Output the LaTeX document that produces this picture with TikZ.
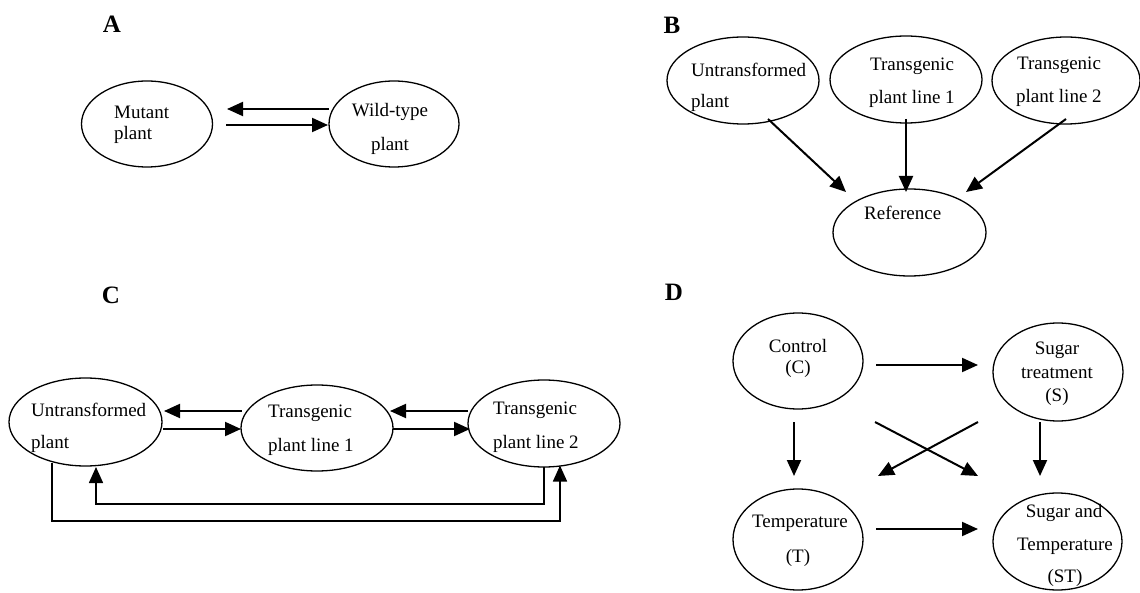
\documentclass[tikz,border=0pt]{standalone}
\usepackage{fontspec}
\setmainfont{Liberation Serif}
\usetikzlibrary{shapes.geometric,arrows.meta,calc}
\begin{document}
\begin{tikzpicture}[x=1pt,y=-1pt,
  ell/.style={draw, ellipse, line width=1.3pt, inner sep=0pt, outer sep=0pt},
  txt/.style={inner sep=0pt, font=\fontsize{19}{22}\selectfont},
  lbl/.style={inner sep=0pt, font=\fontsize{25}{28}\selectfont\bfseries},
  arr/.style={line width=2pt, -{Triangle[length=16pt,width=14pt]}},
  ret/.style={line width=1.6pt, -{Triangle[length=16pt,width=14pt]}}]
\useasboundingbox (0,0) rectangle (1140,593);

% ---------- Panel A ----------
\node[lbl] (la) at (112,24) {A};
\node[ell, minimum width=131pt, minimum height=86pt] (mut) at (147,124) {};
\node[ell, minimum width=130pt, minimum height=86pt] (wild) at (394,124) {};
\node[txt, anchor=west] (mut1) at (114,112) {Mutant};
\node[txt, anchor=west] (mut2) at (114,135) {plant};
\node[txt] (wild1) at (390,112) {Wild-type};
\node[txt] (wild2) at (390,146) {plant};
\draw[arr] ($(wild.west)+(0,-15)$) -- ($(mut.east)+(14.5,-15)$);
\draw[arr] ($(mut.east)+(13.5,1)$) -- ($(wild.west)+(-1,1)$);

% ---------- Panel B ----------
\node[lbl] (lb) at (672,25) {B};
\node[ell, minimum width=152pt, minimum height=87pt] (bu) at (743,80.5) {};
\node[ell, minimum width=152pt, minimum height=87pt] (bt1) at (906,79.5) {};
\node[ell, minimum width=148pt, minimum height=87pt] (bt2) at (1066,80.5) {};
\node[ell, minimum width=153pt, minimum height=87pt] (bref) at (909.5,232.5) {};
\node[txt, anchor=west] (bu1) at (691,70) {Untransformed};
\node[txt, anchor=west] (bu2) at (691,103) {plant};
\node[txt, anchor=west] (bt11) at (870,66) {Transgenic};
\node[txt, anchor=west] (bt12) at (869,99) {plant line 1};
\node[txt, anchor=west] (bt21) at (1017,65) {Transgenic};
\node[txt, anchor=west] (bt22) at (1016,98) {plant line 2};
\node[txt, anchor=west] (bref1) at (864,213) {Reference};
\draw[arr] ($(bu.south)+(25,-5)$) -- ($(bref.north)+(-63.5,3)$);
\draw[arr] ($(bt1.south)+(0,-4)$) -- ($(bref.north)+(-3.5,3)$);
\draw[arr] ($(bt2.south)+(0,-5)$) -- ($(bref.north)+(56.5,3)$);

% ---------- Panel C ----------
\node[lbl] (lc) at (111,295) {C};
\node[ell, minimum width=153pt, minimum height=88pt] (cu) at (85.5,422) {};
\node[ell, minimum width=152pt, minimum height=86pt] (ct1) at (317,428) {};
\node[ell, minimum width=152pt, minimum height=87pt] (ct2) at (544,423.5) {};
\node[txt, anchor=west] (cu1) at (31,410) {Untransformed};
\node[txt, anchor=west] (cu2) at (31,444) {plant};
\node[txt, anchor=west] (ct11) at (268,413) {Transgenic};
\node[txt, anchor=west] (ct12) at (268,447) {plant line 1};
\node[txt, anchor=west] (ct21) at (493,410) {Transgenic};
\node[txt, anchor=west] (ct22) at (493,444) {plant line 2};
\draw[arr] ($(ct1.west)+(1,-17)$) -- ($(cu.east)+(2,-11)$);
\draw[arr] ($(cu.east)+(1,7)$) -- ($(ct1.west)+(0,1)$);
\draw[arr] ($(ct2.west)+(0,-12.5)$) -- ($(ct1.east)+(-3,-17)$);
\draw[arr] ($(ct1.east)+(0,1)$) -- ($(ct2.west)+(2,5.5)$);
\draw[ret] (ct2.south) -- ++(0,37) -| ($(cu.south)+(10.5,1)$);
\draw[ret] ($(cu.south)+(-33.5,-3)$) -- ++(0,58) -| ($(ct2.south)+(16,-1.5)$);

% ---------- Panel D ----------
\node[lbl] (ld) at (674,292) {D};
\node[ell, minimum width=130pt, minimum height=96pt] (ctl) at (798,361) {};
\node[ell, minimum width=130pt, minimum height=98pt] (sug) at (1058,372) {};
\node[ell, minimum width=130pt, minimum height=101pt] (tmp) at (798,539.5) {};
\node[ell, minimum width=129pt, minimum height=97pt] (st) at (1057.5,541.5) {};
\node[txt] (ctl1) at (798,346) {Control};
\node[txt] (ctl2) at (798,369) {(C)};
\node[txt] (sug1) at (1057,350) {Sugar};
\node[txt] (sug2) at (1057,373) {treatment};
\node[txt] (sug3) at (1057,397) {(S)};
\node[txt] (tmp1) at (800,523) {Temperature};
\node[txt] (tmp2) at (798,558) {(T)};
\node[txt] (st1) at (1064,513) {Sugar and};
\node[txt] (st2) at (1065,546) {Temperature};
\node[txt] (st3) at (1065,578) {(ST)};
\draw[arr] ($(ctl.east)+(13,4)$) -- ($(sug.west)+(-15,-7)$);
\draw[arr] ($(tmp.east)+(13,-10.5)$) -- ($(st.west)+(-15,-12.5)$);
\draw[arr] ($(ctl.south)+(-4,13)$) -- ($(tmp.north)+(-4,-13)$);
\draw[arr] ($(sug.south)+(-18,1)$) -- ($(st.north)+(-17.5,-17)$);
\draw[arr] ($(ctl.south)+(77,13)$) -- ($(st.north)+(-79.5,-17)$);
\draw[arr] ($(sug.south)+(-80,1)$) -- ($(tmp.north)+(80,-13)$);
\end{tikzpicture}
\end{document}
